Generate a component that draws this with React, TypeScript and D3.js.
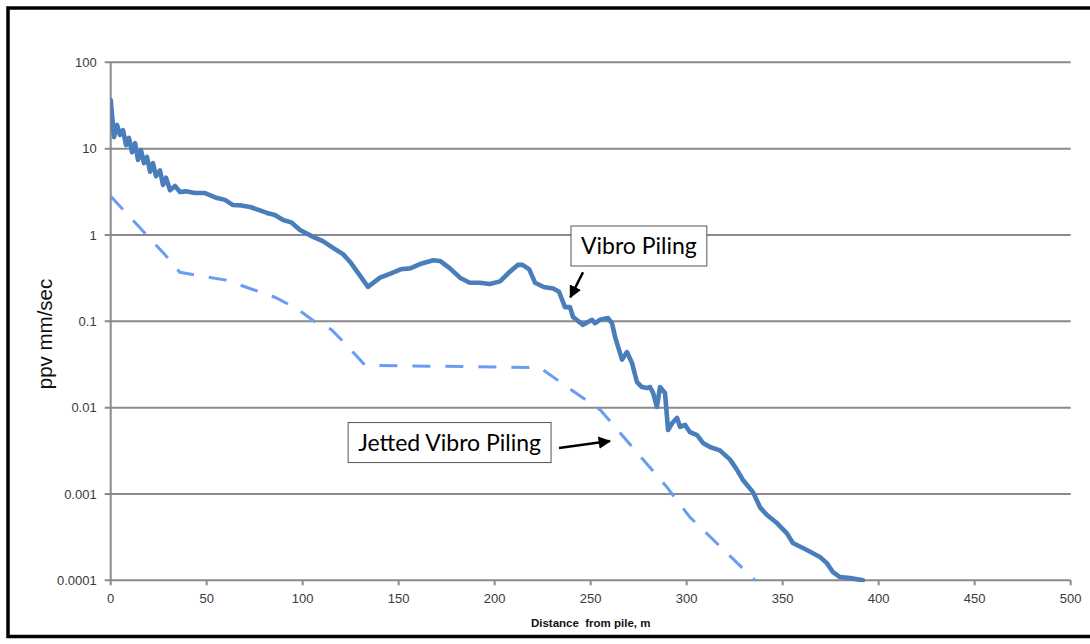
import React, { useEffect, useRef } from "react";
import * as d3 from "d3";

// Vibro Piling (solid) — distance (m) and ppv (mm/s)
const vibroDist = [0, 0.7, 1.7, 3.3, 4.8, 6.4, 8.0, 9.5, 11.1, 12.7, 14.2, 15.8, 17.3, 18.9, 20.5, 22.0, 23.6, 25.7, 27.2, 28.8, 30.9, 33.5, 36.1, 39.2, 43.9, 49.1, 55.4, 59.5, 63.7, 68.0, 72.6, 77.0, 81.4, 85.5, 89.8, 94.0, 98.6, 105.4, 110.5, 115.8, 121.0, 124.6, 127.5, 134.0, 140.3, 146.0, 151.0, 156.0, 161.1, 168.0, 171.5, 176.7, 181.9, 187.0, 192.3, 197.5, 202.8, 207.0, 212.0, 214.5, 218.0, 221.0, 225.5, 230.5, 233.5, 236.6, 239.2, 240.8, 246.0, 250.7, 252.2, 254.8, 259.0, 261.1, 262.7, 266.3, 268.9, 271.5, 274.1, 276.7, 279.3, 280.9, 282.5, 284.5, 286.1, 288.7, 290.3, 292.4, 295.0, 296.5, 299.2, 301.7, 305.4, 308.5, 312.1, 317.3, 322.6, 326.2, 329.3, 334.5, 338.2, 341.8, 347.0, 352.2, 355.3, 362.6, 369.4, 373.0, 376.2, 379.8, 385.1, 391.8];
const vibroPpv = [36.6, 24.5, 13.6, 18.8, 14.4, 16.4, 11.0, 13.3, 9.1, 11.6, 7.4, 9.6, 6.8, 8.0, 5.4, 6.8, 4.8, 5.6, 3.8, 4.6, 3.3, 3.7, 3.15, 3.2, 3.06, 3.06, 2.68, 2.55, 2.22, 2.2, 2.11, 1.95, 1.8, 1.7, 1.49, 1.4, 1.14, 0.95, 0.85, 0.71, 0.6, 0.49, 0.4, 0.25, 0.32, 0.36, 0.4, 0.41, 0.46, 0.51, 0.5, 0.41, 0.32, 0.28, 0.28, 0.27, 0.29, 0.36, 0.45, 0.45, 0.4, 0.28, 0.25, 0.24, 0.22, 0.146, 0.146, 0.112, 0.091, 0.104, 0.095, 0.104, 0.109, 0.095, 0.066, 0.036, 0.044, 0.033, 0.0198, 0.0173, 0.0169, 0.0173, 0.0148, 0.0102, 0.0173, 0.0148, 0.0055, 0.0066, 0.0076, 0.006, 0.0063, 0.0052, 0.0048, 0.0039, 0.0035, 0.0032, 0.0025, 0.0019, 0.00145, 0.00105, 0.0007, 0.00057, 0.00046, 0.00035, 0.00027, 0.000224, 0.000186, 0.000158, 0.000124, 0.000109, 0.000106, 0.0001];

// Jetted Vibro Piling (dashed)
const jettedDist = [0, 28.3, 36.0, 60.0, 85.5, 97.0, 106.0, 115.0, 124.0, 132.4, 223.6, 240.0, 255.0, 289.7, 301.6, 335.6];
const jettedPpv = [2.8, 0.59, 0.37, 0.3, 0.19, 0.14, 0.1, 0.08, 0.05, 0.031, 0.029, 0.016, 0.0094, 0.0012, 0.00054, 0.0001];

const xTicks = [0, 50, 100, 150, 200, 250, 300, 350, 400, 450, 500];
const yTicks = [0.0001, 0.001, 0.01, 0.1, 1, 10, 100];
const yTickLabels = ["0.0001", "0.001", "0.01", "0.1", "1", "10", "100"];

const xTitle = "Distance  from pile, m";
const yTitle = "ppv mm/sec";

// annotations in data units
const annotations = [
  { text: "Vibro Piling", x: 275.1, v: 0.745, from: [246.0, 0.37], to: [239.4, 0.19] },
  { text: "Jetted Vibro Piling", x: 176.5, v: 0.00394, from: [233.5, 0.0034], to: [260.0, 0.0041] },
];

export default function App() {
  const ref = useRef<SVGSVGElement>(null);

  useEffect(() => {
    const svg = d3.select(ref.current);
    svg.selectAll("*").remove();
    const W = 1090, H = 644;
    const left = 110.7, right = 1070.7, top = 62.3, bottom = 580.3;
    const x = d3.scaleLinear().domain([0, 500]).range([left, right]);
    const y = d3.scaleLog().domain([0.0001, 100]).range([bottom, top]);

    svg.append("rect").attr("x", 0).attr("y", 0).attr("width", W).attr("height", H).attr("fill", "#fff");
    // frame
    svg.append("rect").attr("x", 8).attr("y", 8).attr("width", W + 20).attr("height", H - 16 + 0.5)
      .attr("fill", "none").attr("stroke", "#000").attr("stroke-width", 3.5);

    const grid = svg.append("g");
    yTicks.forEach((t, i) => {
      grid.append("line").attr("x1", left - 6).attr("x2", right).attr("y1", y(t)).attr("y2", y(t))
        .attr("stroke", "#8a8a8a").attr("stroke-width", 2);
      grid.append("text").attr("x", left - 14).attr("y", y(t)).attr("dy", "0.35em")
        .attr("text-anchor", "end").attr("font-family", "Liberation Sans, Arial, sans-serif")
        .attr("font-size", 13).attr("fill", "#3a3a3a").text(yTickLabels[i]);
    });
    // y axis line
    grid.append("line").attr("x1", left).attr("x2", left).attr("y1", top).attr("y2", bottom)
      .attr("stroke", "#8a8a8a").attr("stroke-width", 2);
    xTicks.forEach((t) => {
      grid.append("line").attr("x1", x(t)).attr("x2", x(t)).attr("y1", bottom).attr("y2", bottom + 5)
        .attr("stroke", "#8a8a8a").attr("stroke-width", 2);
      grid.append("text").attr("x", x(t)).attr("y", bottom + 23)
        .attr("text-anchor", "middle").attr("font-family", "Liberation Sans, Arial, sans-serif")
        .attr("font-size", 13).attr("fill", "#3a3a3a").text(String(t));
    });

    // titles
    svg.append("text").attr("x", (left + right) / 2).attr("y", 627).attr("text-anchor", "middle")
      .attr("font-family", "Liberation Sans, Arial, sans-serif").attr("font-weight", "bold")
      .attr("font-size", 11.5).attr("fill", "#111").style("white-space", "pre").text(xTitle);
    svg.append("text").attr("transform", `translate(52,334) rotate(-90)`).attr("text-anchor", "middle")
      .attr("font-family", "Liberation Sans, Arial, sans-serif").attr("font-size", 20.5).attr("fill", "#111").text(yTitle);

    const line = d3.line<[number, number]>().x((d) => x(d[0])).y((d) => y(d[1]));
    const defs = svg.append("defs");
    defs.append("clipPath").attr("id", "plotclip")
      .append("rect").attr("x", left).attr("y", top - 10).attr("width", right - left).attr("height", bottom - top + 12);

    const jetted: [number, number][] = jettedDist.map((d, i) => [d, jettedPpv[i]]);
    svg.append("path").attr("d", line(jetted)).attr("fill", "none").attr("stroke", "#6a9cf2")
      .attr("stroke-width", 3).attr("stroke-dasharray", "18 15").attr("clip-path", "url(#plotclip)");

    const vibro: [number, number][] = vibroDist.map((d, i) => [d, vibroPpv[i]]);
    svg.append("path").attr("d", line(vibro)).attr("fill", "none").attr("stroke", "#4a7ebb")
      .attr("stroke-width", 4.6).attr("stroke-linejoin", "round").attr("stroke-linecap", "round")
      .attr("clip-path", "url(#plotclip)");

    // arrow marker
    defs.append("marker").attr("id", "arr").attr("viewBox", "0 0 10 10").attr("refX", 9).attr("refY", 5)
      .attr("markerWidth", 5).attr("markerHeight", 5).attr("markerUnits", "strokeWidth").attr("orient", "auto")
      .append("path").attr("d", "M0,0 L10,5 L0,10 Z").attr("fill", "#000");

    annotations.forEach((a) => {
      const g = svg.append("g");
      const cx = x(a.x), cy = y(a.v);
      const t = g.append("text").attr("x", cx).attr("y", cy).attr("dy", "0.36em").attr("text-anchor", "middle")
        .attr("font-family", "Lato, 'Open Sans', sans-serif").attr("font-size", 23).attr("fill", "#000").text(a.text);
      const bb = (t.node() as SVGTextElement).getBBox();
      g.insert("rect", "text").attr("x", bb.x - 10).attr("y", cy - 20).attr("width", bb.width + 20).attr("height", 40)
        .attr("fill", "#fff").attr("stroke", "#555").attr("stroke-width", 1);
      svg.append("line").attr("x1", x(a.from[0])).attr("y1", y(a.from[1])).attr("x2", x(a.to[0])).attr("y2", y(a.to[1]))
        .attr("stroke", "#000").attr("stroke-width", 2.5).attr("marker-end", "url(#arr)");
    });
  }, []);

  return (
    <svg ref={ref} width={1090} height={644} style={{ position: "absolute", left: 0, top: 0 }} />
  );
}
